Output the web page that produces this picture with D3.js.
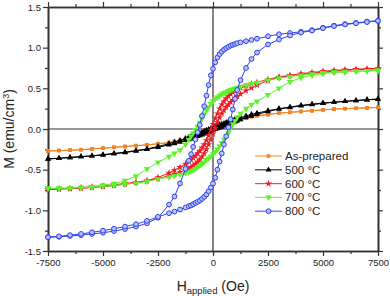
<!DOCTYPE html>
<html><head><meta charset="utf-8">
<script src="https://cdn.jsdelivr.net/npm/d3@7/dist/d3.min.js"></script>
<style>html,body{margin:0;padding:0;background:#fff;}svg{display:block;}</style>
</head><body>
<script>
// Applied field grid (Oe)
const hField = [-7500,-7000,-6500,-6000,-5500,-5000,-4500,-4000,-3500,-3000,-2500,-2000,-1750,-1500,-1250,-1100,-1000,-900,-800,-700,-600,-500,-400,-300,-200,-100,0,100,200,300,400,500,600,700,800,900,1000,1100,1250,1500,1750,2000,2500,3000,3500,4000,4500,5000,5500,6000,6500,7000,7500];

// M (emu/cm3), descending-field branch (Up) and ascending-field branch (Down)
const asPreparedUp = [-0.27,-0.265,-0.26,-0.255,-0.245,-0.235,-0.225,-0.215,-0.205,-0.195,-0.18,-0.165,-0.155,-0.14,-0.12,-0.11,-0.10,-0.09,-0.08,-0.07,-0.06,-0.05,-0.04,-0.03,-0.02,-0.01,0.0,0.01,0.02,0.03,0.04,0.05,0.06,0.07,0.08,0.09,0.10,0.11,0.12,0.14,0.155,0.165,0.18,0.195,0.205,0.215,0.225,0.235,0.245,0.25,0.255,0.26,0.265];
const asPreparedDown = [-0.27,-0.265,-0.26,-0.255,-0.245,-0.235,-0.225,-0.215,-0.205,-0.195,-0.185,-0.17,-0.16,-0.145,-0.13,-0.12,-0.11,-0.10,-0.09,-0.08,-0.07,-0.06,-0.05,-0.04,-0.03,-0.02,-0.01,0.0,0.01,0.02,0.03,0.04,0.05,0.06,0.07,0.08,0.09,0.10,0.115,0.135,0.15,0.16,0.175,0.195,0.205,0.215,0.225,0.235,0.245,0.25,0.255,0.26,0.265];
const m500Up = [-0.37,-0.36,-0.35,-0.34,-0.33,-0.315,-0.30,-0.285,-0.265,-0.245,-0.215,-0.18,-0.16,-0.14,-0.115,-0.10,-0.09,-0.08,-0.07,-0.06,-0.05,-0.04,-0.025,-0.015,-0.005,0.005,0.02,0.03,0.04,0.05,0.06,0.07,0.08,0.09,0.10,0.11,0.12,0.13,0.14,0.16,0.18,0.195,0.225,0.25,0.27,0.29,0.305,0.32,0.33,0.34,0.35,0.36,0.365];
const m500Down = [-0.365,-0.36,-0.35,-0.34,-0.33,-0.32,-0.305,-0.29,-0.27,-0.25,-0.225,-0.195,-0.18,-0.16,-0.14,-0.13,-0.12,-0.11,-0.10,-0.09,-0.08,-0.07,-0.06,-0.05,-0.04,-0.03,-0.02,-0.005,0.005,0.015,0.025,0.04,0.05,0.06,0.07,0.08,0.09,0.10,0.115,0.14,0.16,0.18,0.215,0.245,0.265,0.285,0.30,0.315,0.33,0.34,0.35,0.36,0.37];
const m600Up = [-0.74,-0.735,-0.73,-0.72,-0.71,-0.70,-0.685,-0.67,-0.655,-0.635,-0.595,-0.54,-0.505,-0.47,-0.43,-0.40,-0.38,-0.355,-0.33,-0.30,-0.27,-0.23,-0.19,-0.14,-0.08,-0.01,0.06,0.13,0.19,0.25,0.30,0.34,0.375,0.405,0.43,0.45,0.47,0.485,0.505,0.53,0.555,0.575,0.61,0.64,0.66,0.68,0.695,0.71,0.72,0.73,0.735,0.74,0.745];
const m600Down = [-0.745,-0.74,-0.735,-0.73,-0.72,-0.71,-0.695,-0.68,-0.66,-0.64,-0.61,-0.575,-0.555,-0.53,-0.505,-0.485,-0.47,-0.45,-0.43,-0.405,-0.375,-0.34,-0.30,-0.25,-0.19,-0.13,-0.06,0.01,0.08,0.14,0.19,0.23,0.27,0.30,0.33,0.355,0.38,0.40,0.43,0.47,0.505,0.54,0.595,0.635,0.655,0.67,0.685,0.70,0.71,0.72,0.73,0.735,0.74];
const m700Up = [-0.73,-0.73,-0.725,-0.72,-0.71,-0.69,-0.67,-0.635,-0.58,-0.49,-0.41,-0.34,-0.30,-0.26,-0.19,-0.13,-0.09,-0.05,-0.01,0.03,0.08,0.13,0.18,0.23,0.27,0.31,0.34,0.37,0.39,0.41,0.43,0.445,0.455,0.47,0.48,0.49,0.50,0.51,0.52,0.54,0.555,0.57,0.60,0.625,0.645,0.66,0.675,0.69,0.70,0.705,0.71,0.715,0.72];
const m700Down = [-0.73,-0.73,-0.725,-0.72,-0.715,-0.705,-0.695,-0.68,-0.665,-0.645,-0.615,-0.59,-0.575,-0.56,-0.54,-0.53,-0.52,-0.51,-0.49,-0.47,-0.45,-0.43,-0.41,-0.38,-0.36,-0.335,-0.31,-0.28,-0.25,-0.21,-0.17,-0.13,-0.09,-0.05,0.01,0.06,0.10,0.14,0.19,0.25,0.30,0.34,0.42,0.50,0.58,0.63,0.66,0.68,0.695,0.70,0.71,0.715,0.72];
const m800Up = [-1.33,-1.325,-1.315,-1.305,-1.29,-1.275,-1.255,-1.23,-1.20,-1.16,-1.09,-0.93,-0.83,-0.67,-0.49,-0.39,-0.31,-0.22,-0.13,-0.04,0.05,0.16,0.28,0.41,0.54,0.66,0.74,0.82,0.88,0.92,0.95,0.975,0.995,1.01,1.025,1.035,1.045,1.055,1.065,1.08,1.095,1.11,1.14,1.165,1.18,1.195,1.215,1.245,1.27,1.29,1.305,1.32,1.33];
const m800Down = [-1.33,-1.32,-1.305,-1.29,-1.27,-1.25,-1.225,-1.20,-1.17,-1.13,-1.08,-1.035,-1.015,-0.99,-0.965,-0.95,-0.94,-0.925,-0.91,-0.895,-0.88,-0.86,-0.835,-0.805,-0.765,-0.72,-0.67,-0.60,-0.50,-0.40,-0.30,-0.19,-0.09,0.02,0.12,0.24,0.37,0.48,0.60,0.75,0.86,0.94,1.04,1.10,1.15,1.185,1.21,1.24,1.265,1.285,1.30,1.315,1.33];

const seriesNames = ["As-prepared","500 °C","600 °C","700 °C","800 °C"];
const xTickValues = [-7500,-5000,-2500,0,2500,5000,7500];
const xTickLabels = ["-7500","-5000","-2500","0","2500","5000","7500"];
const xMinorValues = [-6250,-3750,-1250,1250,3750,6250];
const yTickValues = [-1.5,-1.0,-0.5,0.0,0.5,1.0,1.5];
const yTickLabels = ["-1.5","-1.0","-0.5","0.0","0.5","1.0","1.5"];
const yMinorValues = [-1.25,-0.75,-0.25,0.25,0.75,1.25];

const series = [
  {name: seriesNames[0], up: asPreparedUp, down: asPreparedDown, color: "#f28424", sym: d3.symbolSquare, size: 13, rot: 0, fill: "#f28424"},
  {name: seriesNames[1], up: m500Up, down: m500Down, color: "#000000", sym: d3.symbolTriangle, size: 15, rot: 0, fill: "#000000"},
  {name: seriesNames[2], up: m600Up, down: m600Down, color: "#ee1c24", sym: d3.symbolStar, size: 16, rot: 0, fill: "#ee1c24"},
  {name: seriesNames[3], up: m700Up, down: m700Down, color: "#5df22c", sym: d3.symbolTriangle, size: 18, rot: 180, fill: "#5df22c"},
  {name: seriesNames[4], up: m800Up, down: m800Down, color: "#3040ea", sym: d3.symbolCircle, size: 18, rot: 0, fill: "#b8c2ff"}
];

const W = 390, H = 296;
const svg = d3.select("body").append("svg").attr("width", W).attr("height", H);
const x = d3.scaleLinear().domain([-7500, 7500]).range([48, 378]);
const y = d3.scaleLinear().domain([-1.5, 1.5]).range([251, 7]);
const font = "'Liberation Sans', Arial, sans-serif";
const axisColor = "#333";

// zero lines
svg.append("line").attr("x1", x.range()[0]).attr("x2", x.range()[1]).attr("y1", y(0)).attr("y2", y(0))
  .attr("stroke", axisColor).attr("stroke-width", 1.2);
svg.append("line").attr("x1", x(0)).attr("x2", x(0)).attr("y1", y.range()[0]).attr("y2", y.range()[1])
  .attr("stroke", axisColor).attr("stroke-width", 1.2);

function styleAxis(g, labels) {
  g.select(".domain").attr("stroke", axisColor).attr("stroke-width", 1.6);
  g.selectAll(".tick line").attr("stroke", axisColor).attr("stroke-width", 1.2);
  g.selectAll(".tick text").attr("font-family", font).attr("font-size", "9.5px").attr("fill", "#222");
  if (!labels) g.selectAll(".tick text").remove();
}
// bottom
let g = svg.append("g").attr("transform", `translate(0,${y.range()[0]})`)
  .call(d3.axisBottom(x).tickValues(xTickValues).tickSize(5).tickSizeOuter(0).tickPadding(3)
    .tickFormat((d, i) => xTickLabels[i]));
styleAxis(g, true);
g = svg.append("g").attr("transform", `translate(0,${y.range()[0]})`)
  .call(d3.axisBottom(x).tickValues(xMinorValues).tickSize(3).tickSizeOuter(0));
styleAxis(g, false);
// top
g = svg.append("g").attr("transform", `translate(0,${y.range()[1]})`)
  .call(d3.axisTop(x).tickValues(xTickValues).tickSize(5).tickSizeOuter(0));
styleAxis(g, false);
g = svg.append("g").attr("transform", `translate(0,${y.range()[1]})`)
  .call(d3.axisTop(x).tickValues(xMinorValues).tickSize(3).tickSizeOuter(0));
styleAxis(g, false);
// left
g = svg.append("g").attr("transform", `translate(${x.range()[0]},0)`)
  .call(d3.axisLeft(y).tickValues(yTickValues).tickSize(5).tickSizeOuter(0).tickPadding(2)
    .tickFormat((d, i) => yTickLabels[i]));
styleAxis(g, true);
g = svg.append("g").attr("transform", `translate(${x.range()[0]},0)`)
  .call(d3.axisLeft(y).tickValues(yMinorValues).tickSize(3).tickSizeOuter(0));
styleAxis(g, false);
// right
g = svg.append("g").attr("transform", `translate(${x.range()[1]},0)`)
  .call(d3.axisRight(y).tickValues(yTickValues).tickSize(5).tickSizeOuter(0));
styleAxis(g, false);
g = svg.append("g").attr("transform", `translate(${x.range()[1]},0)`)
  .call(d3.axisRight(y).tickValues(yMinorValues).tickSize(3).tickSizeOuter(0));
styleAxis(g, false);

// data
const line = d3.line().x(d => x(d[0])).y(d => y(d[1]));
series.forEach(s => {
  const sg = svg.append("g");
  [s.up, s.down].forEach(arr => {
    const pts = hField.map((h, i) => [h, arr[i]]);
    sg.append("path").attr("d", line(pts)).attr("fill", "none")
      .attr("stroke", s.color).attr("stroke-width", 1);
    sg.selectAll(null).data(pts).enter().append("path")
      .attr("d", d3.symbol().type(s.sym).size(s.size))
      .attr("transform", d => `translate(${x(d[0])},${y(d[1])}) rotate(${s.rot})`)
      .attr("fill", s.fill).attr("stroke", s.sym === d3.symbolCircle ? s.color : "none")
      .attr("stroke-width", 1);
  });
});

// legend
const lx0 = 255, lx1 = 282, ly0 = 156, ldy = 13.8;
series.forEach((s, i) => {
  const ly = ly0 + i * ldy;
  svg.append("line").attr("x1", lx0).attr("x2", lx1).attr("y1", ly).attr("y2", ly)
    .attr("stroke", s.color).attr("stroke-width", 1.2).attr("opacity", 0.8);
  svg.append("path").attr("d", d3.symbol().type(s.sym).size(s.size))
    .attr("transform", `translate(${(lx0 + lx1) / 2},${ly}) rotate(${s.rot})`)
    .attr("fill", s.fill).attr("stroke", s.sym === d3.symbolCircle ? s.color : "none");
  svg.append("text").attr("x", 285).attr("y", ly).attr("dy", "0.35em")
    .attr("font-family", font).attr("font-size", "11.5px").attr("fill", "#222").text(s.name);
});

// axis titles
const xt = svg.append("text").attr("x", x(0)).attr("y", 291).attr("text-anchor", "middle")
  .attr("font-family", font).attr("font-size", "14px").attr("fill", "#222");
xt.append("tspan").text("H");
xt.append("tspan").attr("font-size", "9.5px").attr("dy", "3").text("applied");
xt.append("tspan").attr("dy", "-3").text(" (Oe)");

const yt = svg.append("text").attr("transform", `translate(14,${y(0)}) rotate(-90)`).attr("text-anchor", "middle")
  .attr("font-family", font).attr("font-size", "14px").attr("fill", "#222");
yt.append("tspan").text("M (emu/cm");
yt.append("tspan").attr("font-size", "9px").attr("dy", "-5").text("3");
yt.append("tspan").attr("dy", "5").text(")");
</script>
</body></html>
